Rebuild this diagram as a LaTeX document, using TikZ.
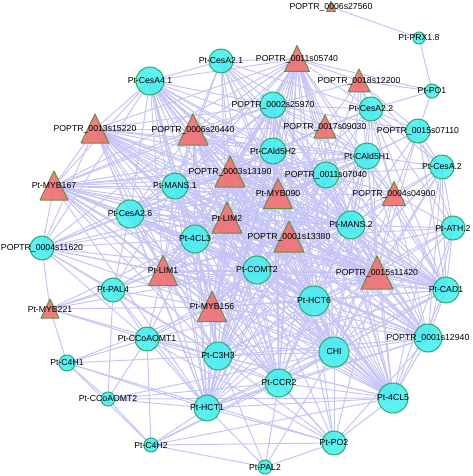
\documentclass[tikz,border=0pt]{standalone}
\usepackage{fontspec}
\setmainfont{Liberation Sans}
\usepackage{xcolor}
\definecolor{edgecol}{RGB}{196,196,246}
\definecolor{cfill}{RGB}{64,240,240}
\definecolor{cline}{RGB}{44,172,100}
\definecolor{tfill}{RGB}{240,112,112}
\definecolor{tline}{RGB}{108,140,64}
% circle gene: name, radius, label
\newcommand{\cgene}[3]{
\fill[cfill, fill opacity=0.85] (#1) circle (#2pt);
\draw[line width=1pt, color=cline] (#1) circle (#2pt);
\node[gtext] (#1-t) at (#1) {#3};
}
% triangle gene: name, width, label
\newcommand{\tgene}[3]{
\begin{scope}[shift={(#1)}]
\fill[tfill, fill opacity=0.9] (0,-#2/2-1)--(#2/2,#2/2)--(-#2/2,#2/2)--cycle;
\draw[line width=1pt, color=tline, line join=round] (0,-#2/2-1)--(#2/2,#2/2)--(-#2/2,#2/2)--cycle;
\end{scope}
\node[gtext] (#1-t) at (#1) {#3};
}
\def\corelist{cesa41,n05740,n15220,n20440,n25970,cald2,cald1,n07040,n13190,myb167,mans1,myb090,cesa26,lim2,mans2,cl3,n13380,lim1,comt2,n11420,cad1,hct6,myb156,n12940,chi,c3h3,ccr2,cl5,hct1}
\usepackage{tikz}

\begin{document}
\begin{tikzpicture}[x=1pt, y=-1pt,
  edge/.style={color=edgecol, line width=1pt},
  gtext/.style={font=\fontsize{8.7}{10}\selectfont, inner sep=0pt}]

\useasboundingbox (0,0) rectangle (472,476);

% positions
\coordinate (n27560) at (331,7);
\coordinate (prx) at (419,38);
\coordinate (n05740) at (297,59);
\coordinate (cesa21) at (221,61);
\coordinate (cesa41) at (150,81);
\coordinate (n12200) at (359,81);
\coordinate (po1) at (432,91);
\coordinate (n25970) at (273,105);
\coordinate (cesa22) at (371,109);
\coordinate (n09030) at (325,127);
\coordinate (n15220) at (95,129);
\coordinate (n20440) at (193,130);
\coordinate (n07110) at (418,131);
\coordinate (cald2) at (273,151);
\coordinate (cald1) at (367,156);
\coordinate (cesa2) at (442,167);
\coordinate (n13190) at (230,172);
\coordinate (n07040) at (326,175);
\coordinate (myb167) at (54,186);
\coordinate (mans1) at (175,186);
\coordinate (myb090) at (278,194);
\coordinate (n04900) at (394,194);
\coordinate (cesa26) at (130,214);
\coordinate (lim2) at (227,218);
\coordinate (mans2) at (351,225);
\coordinate (ath2) at (453,228);
\coordinate (cl3) at (195,239);
\coordinate (n13380) at (289,237);
\coordinate (n11620) at (42,248);
\coordinate (comt2) at (257,270);
\coordinate (lim1) at (163,271);
\coordinate (n11420) at (377,273);
\coordinate (pal4) at (113,290);
\coordinate (cad1) at (446,290);
\coordinate (hct6) at (314,301);
\coordinate (myb156) at (212,307);
\coordinate (myb221) at (50,309);
\coordinate (n12940) at (428,338);
\coordinate (ccoaomt1) at (147,339);
\coordinate (chi) at (334,352);
\coordinate (c3h3) at (218,356);
\coordinate (c4h1) at (67,363);
\coordinate (ccr2) at (279,383);
\coordinate (cl5) at (393,398);
\coordinate (ccoaomt2) at (108,399);
\coordinate (hct1) at (207,408);
\coordinate (po2) at (334,443);
\coordinate (c4h2) at (151,445);
\coordinate (pal2) at (265,467);

% core genes, all linked
\foreach \a [count=\i] in \corelist {
  \foreach \b [count=\j] in \corelist {
    \ifnum\j>\i \draw[edge] (\a) -- (\b); \fi
  }
}

% other links
\foreach \s/\ts in {
  n27560/{prx},
  prx/{po1},
  po1/{n12200,n05740,cesa22,n07110},
  cesa21/{cesa41,n05740,n25970,cald2,n20440,n13190,myb090,mans1,n09030,cesa22,mans2,n07040,comt2,lim2,n13380},
  cesa22/{n05740,n12200,n25970,n07110,cesa2,cald1,n07040,mans2,n04900,n09030,cald2,n11420,myb090,ath2,cad1},
  n07110/{n12200,cesa2,cald1,n04900,mans2,n11420,cad1,ath2,n07040,n25970,n09030},
  n09030/{n05740,n25970,cald2,cald1,n07040,myb090,n13190,n04900,mans2,n13380,n20440},
  n12200/{n05740,n25970,cald1,n07040,mans2,n04900,n09030,cesa2},
  cesa2/{cald1,n04900,mans2,ath2,cad1,n11420,n07040,n12940,chi,cl5,hct6},
  n04900/{cald1,mans2,n11420,ath2,cad1,n07040,myb090,n13380,hct6,chi,n12940},
  ath2/{mans2,n11420,cad1,n12940,cl5,hct6,chi,n13380,comt2},
  n11620/{myb167,cesa41,n15220,cesa26,mans1,cl3,lim1,pal4,comt2,myb156,c3h3,n13190,lim2,ccoaomt1,hct6,myb090,n20440},
  pal4/{cesa26,cl3,lim1,myb156,ccoaomt1,c3h3,hct1,comt2,mans1,lim2},
  ccoaomt1/{lim1,myb156,c3h3,hct1,ccr2,chi,cl3,comt2,hct6,cl5,po2},
  po2/{hct1,ccr2,chi,cl5,c3h3,hct6,comt2,myb156,n11420,n13380,n12940},
  c4h1/{myb221,ccoaomt1,c3h3,hct1,ccoaomt2,c4h2,po2,myb156},
  ccoaomt2/{pal4,ccoaomt1,hct1,c4h2,chi,ccr2,cl5},
  c4h2/{hct1,ccoaomt1,po2,ccr2,cl5,pal2,chi},
  pal2/{po2,hct1,ccr2,c3h3,chi},
  myb221/{n11620,pal4,ccoaomt1,c3h3,lim1,myb156,comt2,cl3}} {
  \foreach \t in \ts {\draw[edge] (\s) -- (\t);}
}

% genes
\tgene{n27560}{9}{POPTR\_0006s27560}
\cgene{prx}{6}{Pt-PRX1.8}
\tgene{n05740}{25}{POPTR\_0011s05740}
\cgene{cesa21}{12}{Pt-CesA2.1}
\cgene{cesa41}{14}{Pt-CesA4.1}
\tgene{n12200}{22}{POPTR\_0018s12200}
\cgene{po1}{7}{Pt-PO1}
\cgene{n25970}{13}{POPTR\_0002s25970}
\cgene{cesa22}{12}{Pt-CesA2.2}
\tgene{n09030}{22}{POPTR\_0017s09030}
\tgene{n15220}{28}{POPTR\_0013s15220}
\tgene{n20440}{30}{POPTR\_0006s20440}
\cgene{n07110}{12}{POPTR\_0015s07110}
\cgene{cald2}{13}{Pt-CAld5H2}
\cgene{cald1}{13}{Pt-CAld5H1}
\cgene{cesa2}{12}{Pt-CesA.2}
\tgene{n13190}{30}{POPTR\_0003s13190}
\cgene{n07040}{13}{POPTR\_0011s07040}
\tgene{myb167}{28}{Pt-MYB167}
\cgene{mans1}{13}{Pt-MANS.1}
\tgene{myb090}{29}{Pt-MYB090}
\tgene{n04900}{23}{POPTR\_0004s04900}
\cgene{cesa26}{14}{Pt-CesA2.6}
\tgene{lim2}{30}{Pt-LIM2}
\cgene{mans2}{14}{Pt-MANS.2}
\cgene{ath2}{12}{Pt-ATH.2}
\cgene{cl3}{14}{Pt-4CL3}
\tgene{n13380}{30}{POPTR\_0001s13380}
\cgene{n11620}{12}{POPTR\_0004s11620}
\cgene{comt2}{14}{Pt-COMT2}
\tgene{lim1}{29}{Pt-LIM1}
\tgene{n11420}{32}{POPTR\_0015s11420}
\cgene{pal4}{12}{Pt-PAL4}
\cgene{cad1}{13}{Pt-CAD1}
\cgene{hct6}{15}{Pt-HCT6}
\tgene{myb156}{29}{Pt-MYB156}
\tgene{myb221}{18}{Pt-MYB221}
\cgene{n12940}{14}{POPTR\_0001s12940}
\cgene{ccoaomt1}{12}{Pt-CCoAOMT1}
\cgene{chi}{15}{CHI}
\cgene{c3h3}{14}{Pt-C3H3}
\cgene{c4h1}{8}{Pt-C4H1}
\cgene{ccr2}{14}{Pt-CCR2}
\cgene{cl5}{15}{Pt-4CL5}
\cgene{ccoaomt2}{7}{Pt-CCoAOMT2}
\cgene{hct1}{13}{Pt-HCT1}
\cgene{po2}{12}{Pt-PO2}
\cgene{c4h2}{7}{Pt-C4H2}
\cgene{pal2}{7}{Pt-PAL2}

\end{tikzpicture}
\end{document}
